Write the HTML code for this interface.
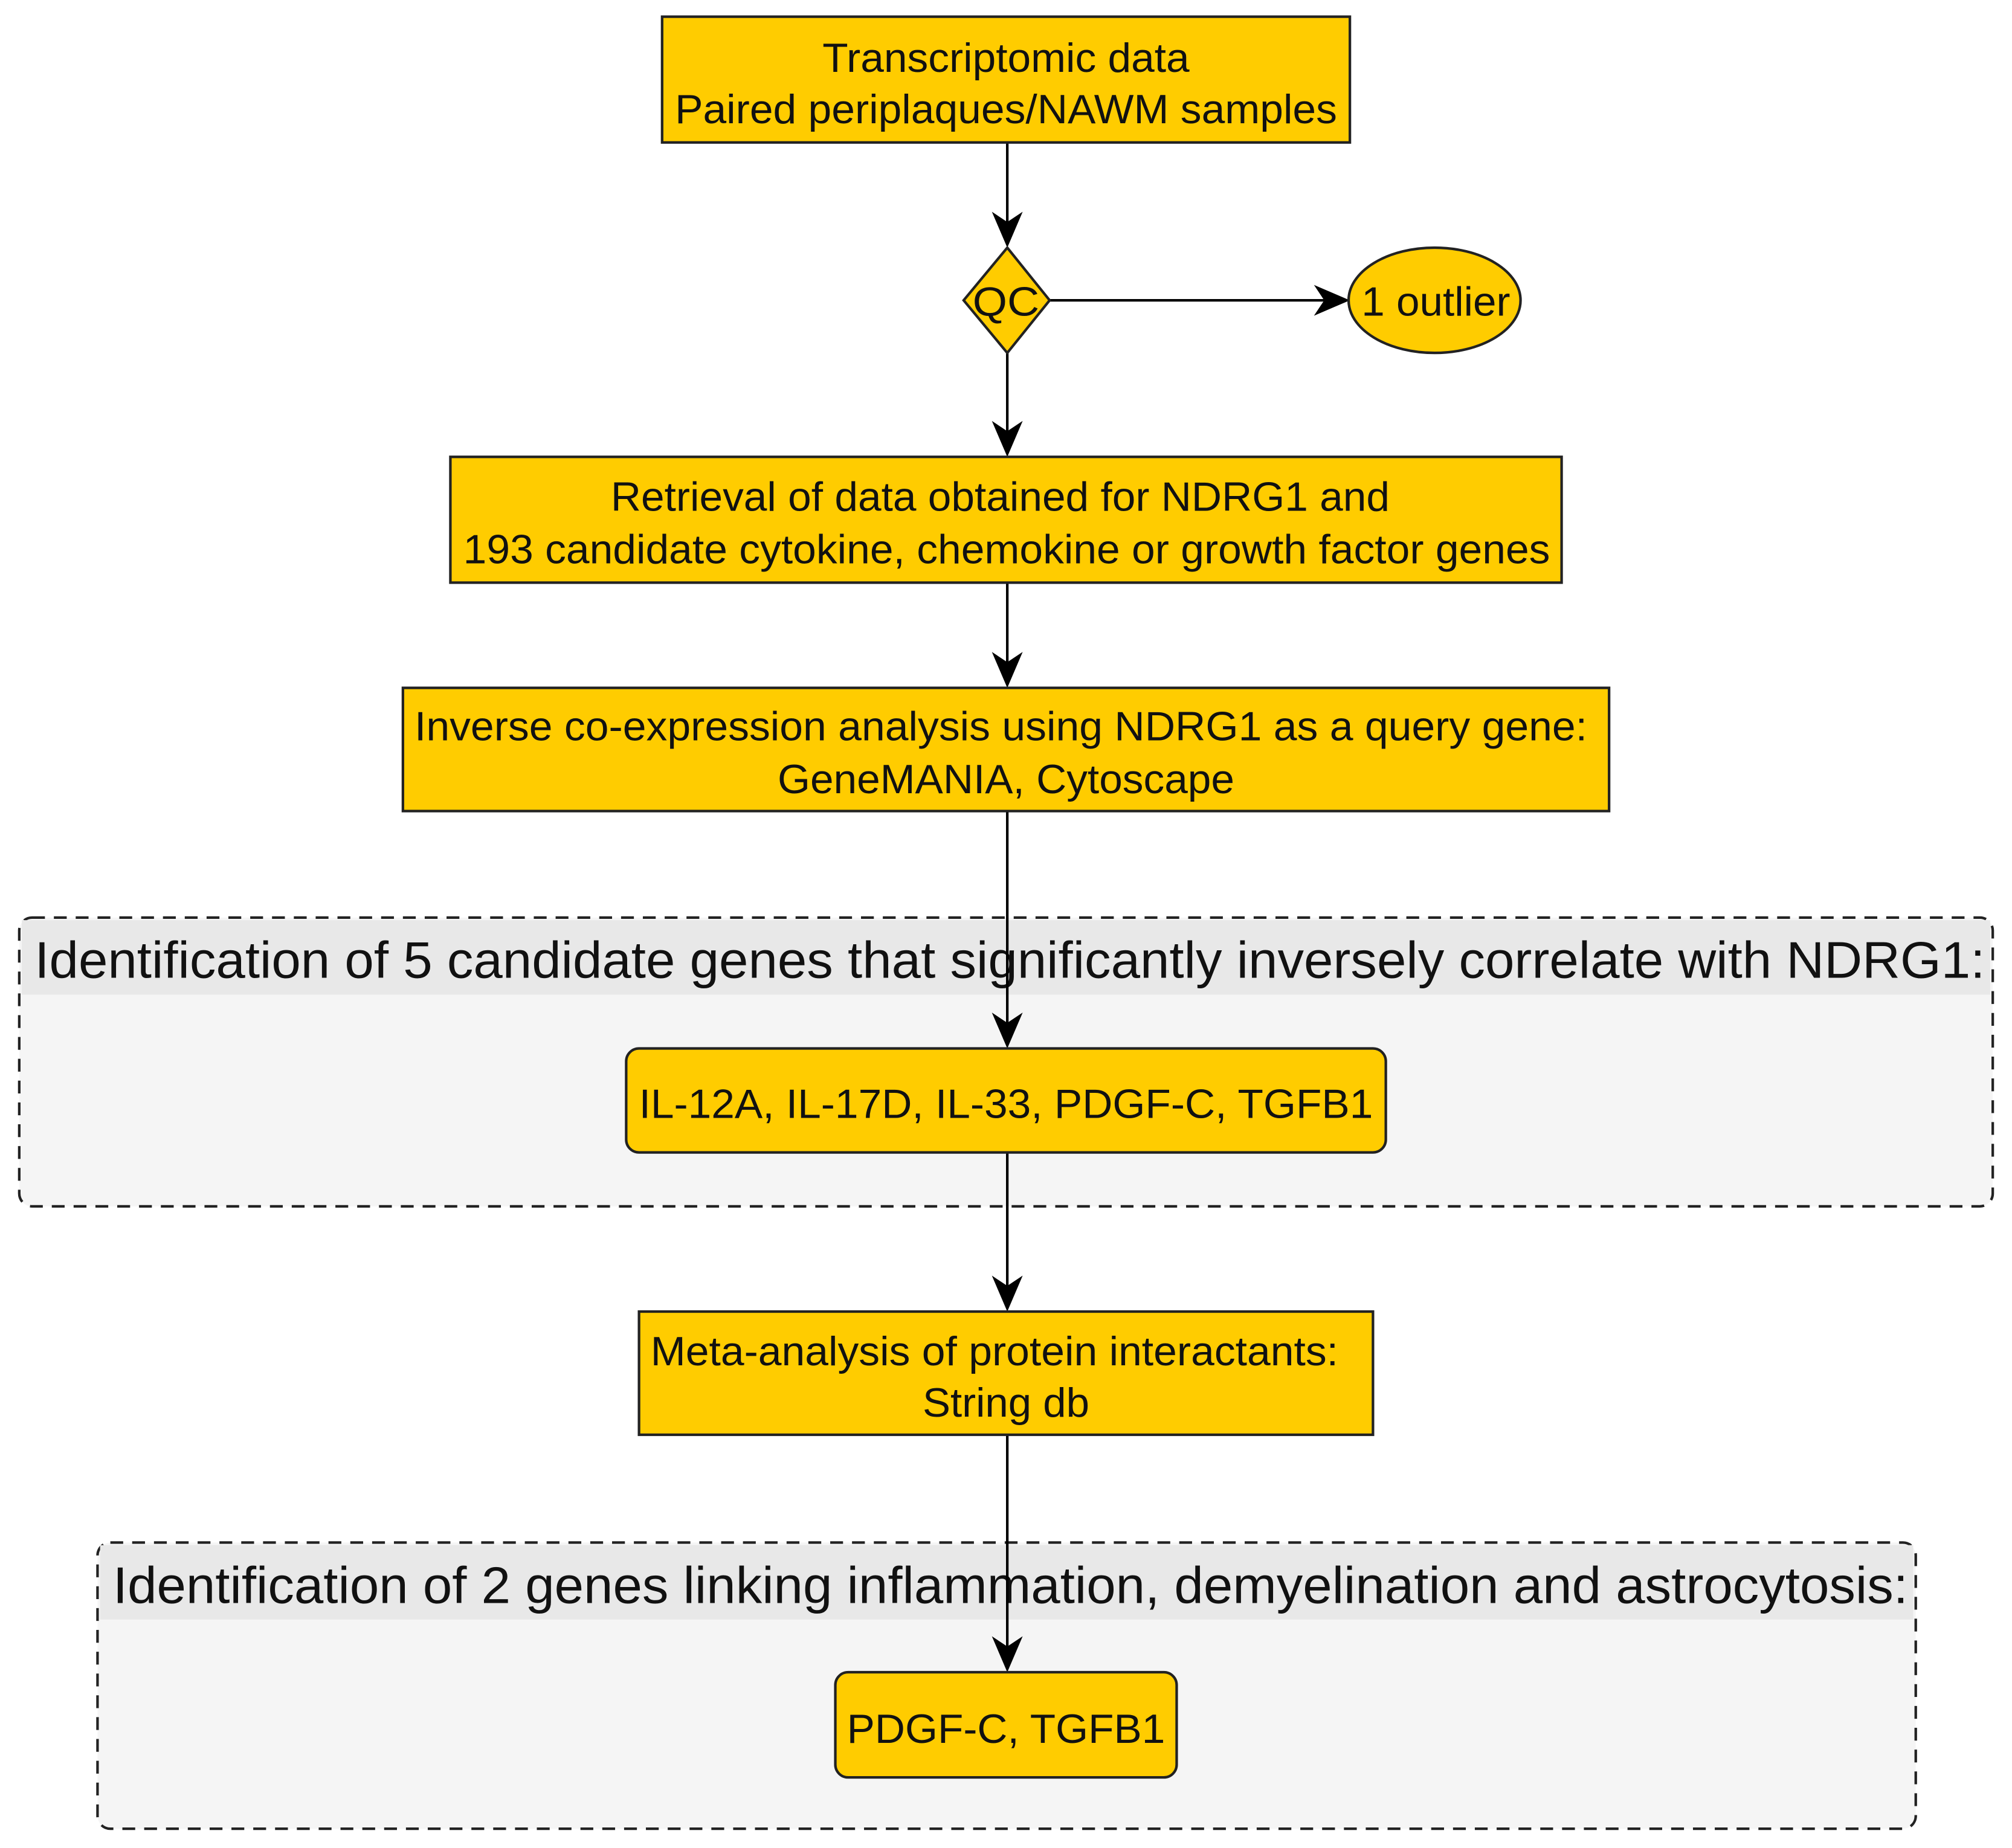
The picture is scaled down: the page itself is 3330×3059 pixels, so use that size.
<!DOCTYPE html>
<html><head><meta charset="utf-8"><style>
html,body{margin:0;padding:0;background:#fff;}
svg{display:block;}
text{font-family:"Liberation Sans",Arial,sans-serif;fill:#111;}
</style></head><body>
<svg width="3330" height="3059" viewBox="0 0 1568 1440" preserveAspectRatio="none" xmlns="http://www.w3.org/2000/svg">
<defs>
<path id="ah" d="M0,0 L-12,-28 L0,-20 L12,-28 Z" fill="#000"/>
</defs>
<rect x="15" y="715" width="1538" height="225" rx="10" fill="#f5f5f5" stroke="#222" stroke-width="2" stroke-dasharray="10,7"/>
<rect x="17" y="717" width="1534" height="58" fill="#e8e8e8"/>
<text x="27" y="762" font-size="40" textLength="1520" lengthAdjust="spacingAndGlyphs">Identification of 5 candidate genes that significantly inversely correlate with NDRG1:</text>
<rect x="76" y="1202" width="1417" height="223" rx="10" fill="#f5f5f5" stroke="#222" stroke-width="2" stroke-dasharray="10,7"/>
<rect x="78" y="1204" width="1413" height="58" fill="#e8e8e8"/>
<text x="88" y="1249" font-size="40" textLength="1399" lengthAdjust="spacingAndGlyphs">Identification of 2 genes linking inflammation, demyelination and astrocytosis:</text>

<g stroke="#000" stroke-width="2" fill="none">
<line x1="785" y1="111" x2="785" y2="180"/>
<line x1="818" y1="234" x2="1040" y2="234"/>
<line x1="785" y1="275" x2="785" y2="345"/>
<line x1="785" y1="454" x2="785" y2="525"/>
<line x1="785" y1="632" x2="785" y2="805"/>
<line x1="785" y1="898" x2="785" y2="1010"/>
<line x1="785" y1="1118" x2="785" y2="1292"/>
</g>
<use href="#ah" transform="translate(785,193)"/>
<use href="#ah" transform="translate(1052,234) rotate(-90)"/>
<use href="#ah" transform="translate(785,356)"/>
<use href="#ah" transform="translate(785,536)"/>
<use href="#ah" transform="translate(785,817)"/>
<use href="#ah" transform="translate(785,1022)"/>
<use href="#ah" transform="translate(785,1303)"/>

<g fill="#ffcc00" stroke="#222" stroke-width="2">
<rect x="516" y="13" width="536" height="98"/>
<polygon points="785,193 818,234 785,275 751,234"/>
<ellipse cx="1118" cy="234" rx="67" ry="41"/>
<rect x="351" y="356" width="866" height="98"/>
<rect x="314" y="536" width="940" height="96"/>
<rect x="488" y="817" width="592" height="81" rx="10"/>
<rect x="498" y="1022" width="572" height="96"/>
<rect x="651" y="1303" width="266" height="82" rx="10"/>
</g>
<g font-size="32" lengthAdjust="spacingAndGlyphs">
<text x="641" y="56" textLength="286" lengthAdjust="spacingAndGlyphs">Transcriptomic data</text>
<text x="526" y="96" textLength="516" lengthAdjust="spacingAndGlyphs">Paired periplaques/NAWM samples</text>
<text x="758" y="246" textLength="52" lengthAdjust="spacingAndGlyphs">QC</text>
<text x="1061" y="246" textLength="116" lengthAdjust="spacingAndGlyphs">1 outlier</text>
<text x="476" y="398" textLength="607" lengthAdjust="spacingAndGlyphs">Retrieval of data obtained for NDRG1 and</text>
<text x="361" y="439" textLength="847" lengthAdjust="spacingAndGlyphs">193 candidate cytokine, chemokine or growth factor genes</text>
<text x="323" y="577" textLength="914" lengthAdjust="spacingAndGlyphs">Inverse co-expression analysis using NDRG1 as a query gene:</text>
<text x="606" y="618" textLength="356" lengthAdjust="spacingAndGlyphs">GeneMANIA, Cytoscape</text>
<text x="498" y="871" textLength="572" lengthAdjust="spacingAndGlyphs">IL-12A, IL-17D, IL-33, PDGF-C, TGFB1</text>
<text x="507" y="1064" textLength="536" lengthAdjust="spacingAndGlyphs">Meta-analysis of protein interactants:</text>
<text x="719" y="1104" textLength="130" lengthAdjust="spacingAndGlyphs">String db</text>
<text x="660" y="1358" textLength="248" lengthAdjust="spacingAndGlyphs">PDGF-C, TGFB1</text>
</g>
</svg>
</body></html>
